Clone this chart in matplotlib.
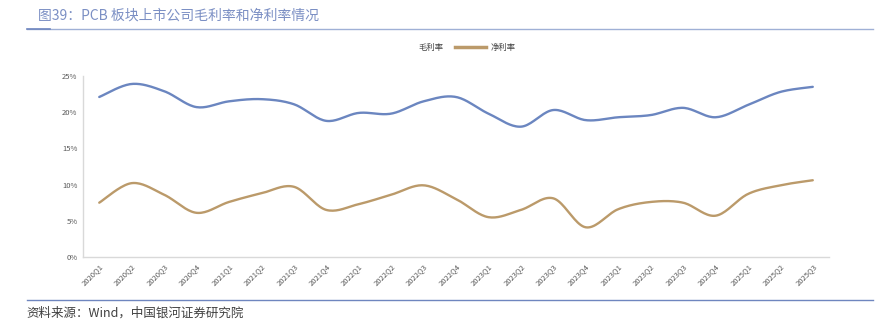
#!/usr/bin/env python3
""" PCB板块上市公司毛利率和净利率 """

import numpy as np
import matplotlib.pyplot as plt
from matplotlib.lines import Line2D

plt.rcParams['font.family'] = ['Noto Sans CJK SC', 'DejaVu Sans']

quarters = ['2020Q1', '2020Q2', '2020Q3', '2020Q4', '2021Q1', '2021Q2', '2021Q3', '2021Q4',
            '2022Q1', '2022Q2', '2022Q3', '2022Q4', '2023Q1', '2023Q2', '2023Q3', '2023Q4',
            '2023Q1', '2023Q2', '2023Q3', '2023Q4', '2025Q1', '2025Q2', '2025Q3']
gross_margin = [22.1, 23.9, 22.9, 20.7, 21.5, 21.8, 21.1, 18.8, 19.9, 19.8, 21.5, 22.1,
                19.8, 18.0, 20.3, 18.9, 19.3, 19.6, 20.6, 19.3, 21.0, 22.8, 23.5]
net_margin = [7.5, 10.2, 8.6, 6.1, 7.6, 8.8, 9.7, 6.5, 7.3, 8.6, 9.9, 8.0,
              5.5, 6.5, 8.1, 4.1, 6.6, 7.6, 7.5, 5.7, 8.7, 9.9, 10.6]

BLUE = '#6b86c0'
BROWN = '#bb9a6a'


def smooth(y, steps=20):
    """ catmull-rom curve through the points, like excel's smoothed line """
    y = np.asarray(y, dtype=float)
    x = np.arange(len(y), dtype=float)
    px = np.concatenate([[x[0]], x, [x[-1]]])
    py = np.concatenate([[y[0]], y, [y[-1]]])
    xs, ys = [], []
    t = np.linspace(0, 1, steps, endpoint=False)
    for i in range(1, len(px) - 2):
        for arr, out in ((px, xs), (py, ys)):
            p0, p1, p2, p3 = arr[i - 1], arr[i], arr[i + 1], arr[i + 2]
            out.extend(0.5 * (2 * p1 + (-p0 + p2) * t
                              + (2 * p0 - 5 * p1 + 4 * p2 - p3) * t ** 2
                              + (-p0 + 3 * p1 - 3 * p2 + p3) * t ** 3))
    xs.append(x[-1])
    ys.append(y[-1])
    return np.array(xs), np.array(ys)


fig = plt.figure(figsize=(8.89, 3.26), dpi=100)
ax = fig.add_axes([0.0934, 0.2117, 0.8391, 0.5552])

gx, gy = smooth(gross_margin)
nx, ny = smooth(net_margin)
ax.plot(gx, gy, color=BLUE, lw=1.7, solid_capstyle='round')
ax.plot(nx, ny, color=BROWN, lw=1.7, solid_capstyle='round')

ax.set_xlim(-0.5, len(quarters) - 0.5)
ax.set_ylim(0, 25)
ax.set_yticks(range(0, 26, 5))
ax.set_yticklabels([f'{v}%' for v in range(0, 26, 5)])
ax.set_xticks(range(len(quarters)))
ax.set_xticklabels(quarters, rotation=45, ha='right', rotation_mode='anchor')
ax.tick_params(length=0, labelsize=5.5, labelcolor='#595959', pad=4)
for s in ('top', 'right'):
    ax.spines[s].set_visible(False)
for s in ('left', 'bottom'):
    ax.spines[s].set_color('#d9d9d9')
    ax.spines[s].set_linewidth(1)

# the reference legend shows no line for 毛利率
handles = [Line2D([], [], color='none', lw=2.5), Line2D([], [], color=BROWN, lw=2.5)]
fig.legend(handles, ['毛利率', '净利率'], loc='center', bbox_to_anchor=(0.505, 0.855),
           ncol=2, frameon=False, fontsize=6, handlelength=3.8, columnspacing=1.4,
           handletextpad=0.5, labelcolor='#404040')

# header and footer
fig.text(0.043, 0.952, '图39：PCB 板块上市公司毛利率和净利率情况', fontsize=10,
         color='#7b8fc4', va='center')
fig.add_artist(Line2D([0.03, 0.982], [0.911, 0.911], color='#9fb0d6', lw=1))
fig.add_artist(Line2D([0.03, 0.056], [0.911, 0.911], color='#6f86bf', lw=1.2))
fig.add_artist(Line2D([0.03, 0.982], [0.08, 0.08], color='#6f86bf', lw=1))
fig.text(0.03, 0.04, '资料来源：Wind，中国银河证券研究院', fontsize=9, color='#404040',
         style='italic', va='center')

plt.savefig('out.png', dpi=100)
